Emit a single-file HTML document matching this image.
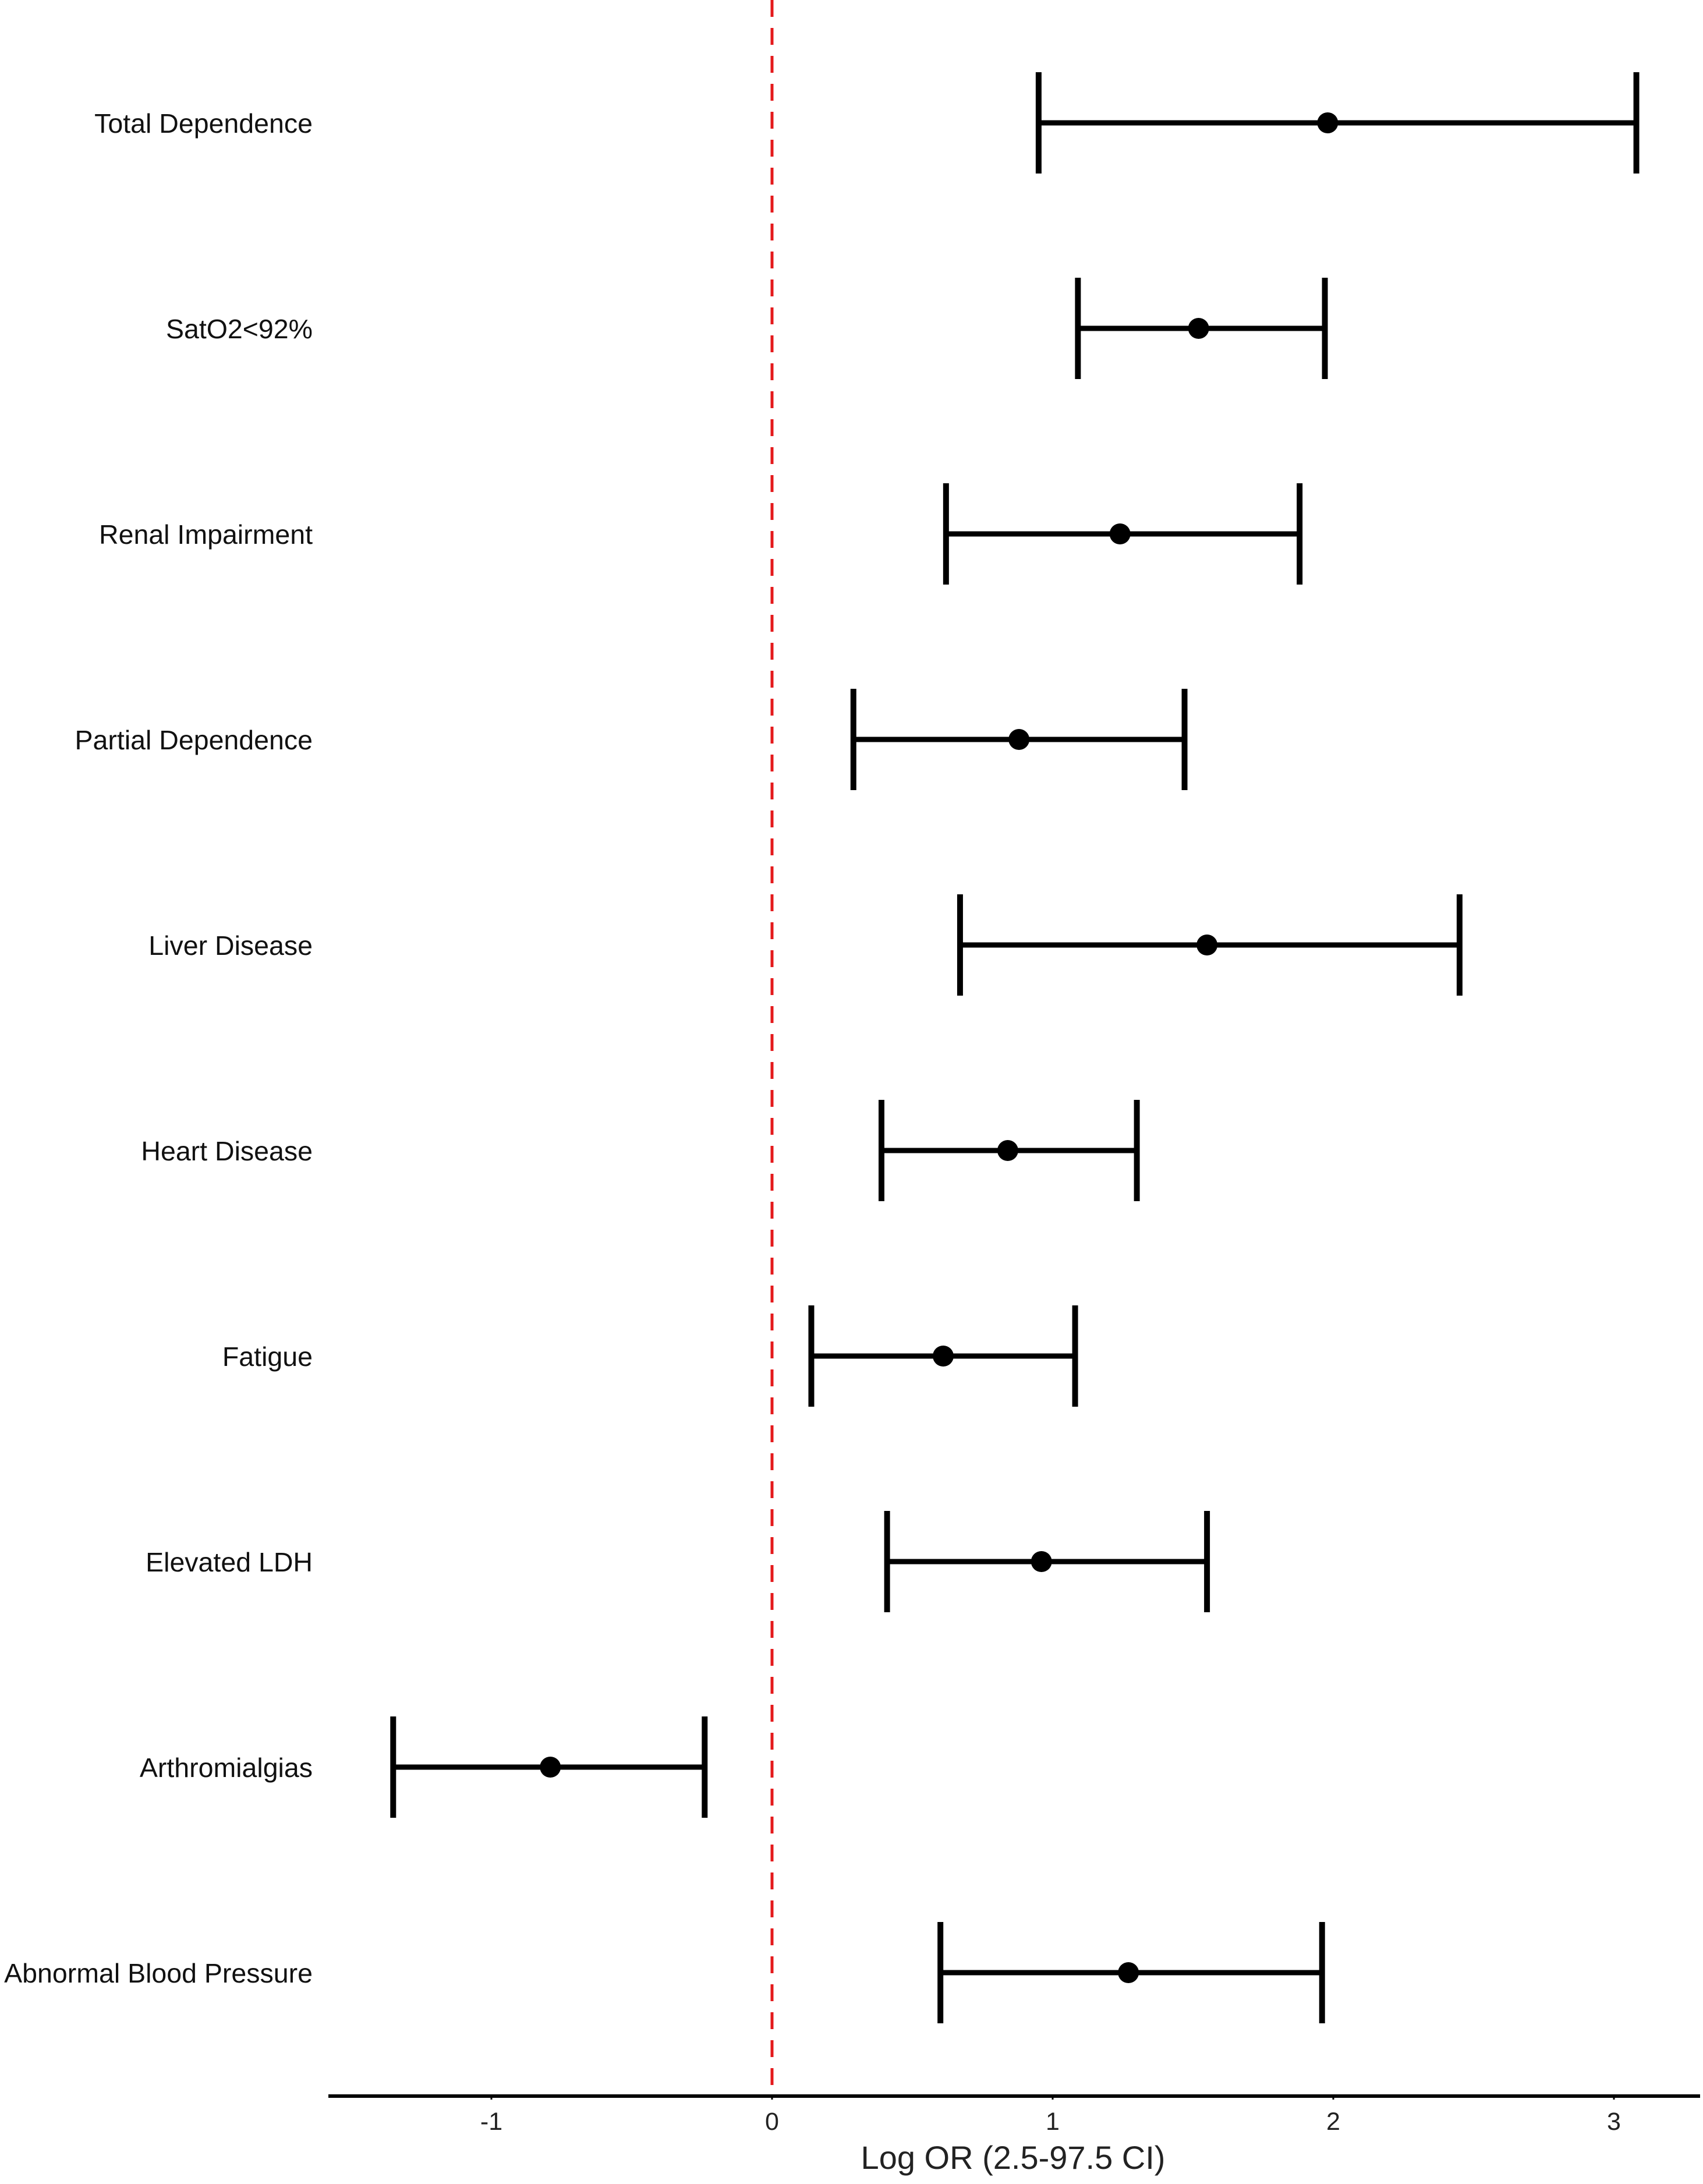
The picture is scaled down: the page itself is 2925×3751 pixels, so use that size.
<!DOCTYPE html>
<html><head><meta charset="utf-8"><style>
html,body{margin:0;padding:0;background:#fff;}
svg{display:block;font-family:"Liberation Sans",Arial,sans-serif;}
</style></head><body>
<svg id="chart" width="2925" height="3751" viewBox="0 0 2925 3751" xmlns="http://www.w3.org/2000/svg">
<g id="marks"></g>
</svg>
<script>
const categories = ["Total Dependence","SatO2<92%","Renal Impairment","Partial Dependence","Liver Disease","Heart Disease","Fatigue","Elevated LDH","Arthromialgias","Abnormal Blood Pressure"];
const estimates = [1.98,1.52,1.24,0.88,1.55,0.84,0.61,0.96,-0.79,1.27];
const lowerCI = [0.95,1.09,0.62,0.29,0.67,0.39,0.14,0.41,-1.35,0.60];
const upperCI = [3.08,1.97,1.88,1.47,2.45,1.30,1.08,1.55,-0.24,1.96];
const xTicks = [-1,0,1,2,3];
const xTickLabels = ["-1","0","1","2","3"];

const NS = "http://www.w3.org/2000/svg";
const svg = document.getElementById('marks');
const X0 = 1326, UNIT = 482;
function xScale(v){ return X0 + v*UNIT; }
function yScale(i){ return 211 + i*353; }
const axisY = 3600;
function mk(tag, attrs){ const e=document.createElementNS(NS,tag); for(const k in attrs) e.setAttribute(k,attrs[k]); svg.appendChild(e); return e; }

const ref = mk('line',{x1:xScale(0),x2:xScale(0),y1:0,y2:axisY,stroke:'#e41a1c','stroke-width':5,'stroke-dasharray':'29 19'});



const ax = mk('line',{x1:564,x2:2920,y1:axisY,y2:axisY,stroke:'#000','stroke-width':6});


xTicks.forEach((t,i)=>{
  const tk = mk('line',{x1:xScale(t),x2:xScale(t),y1:axisY,y2:axisY+6,stroke:'#000','stroke-width':3});
  
  
  const tl = mk('text',{x:xScale(t),y:3658,'text-anchor':'middle','font-size':43,fill:'#222'});
  tl.textContent = xTickLabels[i];
  
  
});
const title = mk('text',{x:1740,y:3725,'text-anchor':'middle','font-size':56,fill:'#222'});
title.textContent = 'Log OR (2.5-97.5 CI)';



categories.forEach((c,i)=>{
  const y = yScale(i);
  const lab = mk('text',{x:537,y:y+17,'text-anchor':'end','font-size':46.5,fill:'#111'});
  lab.textContent = c;
  
  
  const xl = xScale(lowerCI[i]), xh = xScale(upperCI[i]);
  const ln = mk('line',{x1:xl,x2:xh,y1:y,y2:y,stroke:'#000','stroke-width':9});
  
  
  const c1 = mk('line',{x1:xl,x2:xl,y1:y-87,y2:y+87,stroke:'#000','stroke-width':10});
  
  
  const c2 = mk('line',{x1:xh,x2:xh,y1:y-87,y2:y+87,stroke:'#000','stroke-width':10});
  
  
  const pt = mk('circle',{cx:xScale(estimates[i]),cy:y,r:18,fill:'#000'});
  
  
});
</script>
</body></html>
